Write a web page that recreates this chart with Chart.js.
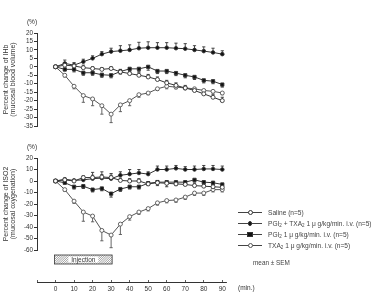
<!DOCTYPE html>
<html>
<head>
<meta charset="utf-8">
<script src="https://cdn.jsdelivr.net/npm/chart.js@4/dist/chart.umd.min.js"></script>
<style>
  body { margin: 0; background: #fff; }
  #wrap { position: relative; width: 374px; height: 297px; overflow: hidden; font-family: 'Liberation Sans', Arial, sans-serif; color: #444; }
  canvas { position: absolute; left: 0; }
  #legend { position: absolute; left: 238px; top: 207px; font-size: 6.6px; line-height: 11px; white-space: nowrap; }
  .row { position: relative; height: 11px; padding-left: 30px; }
  .row .ln { position: absolute; left: 0; top: 5px; width: 24px; border-top: 1px solid #444; }
  .row .mk { position: absolute; box-sizing: border-box; }
  .row sub { font-size: 4.5px; vertical-align: -1px; }
  #sem { position: absolute; left: 253px; top: 259px; font-size: 6.4px; }
</style>
</head>
<body>
<div id="wrap">
  <canvas id="top" width="374" height="135" style="top:0"></canvas>
  <canvas id="bottom" width="374" height="130" style="top:138px"></canvas>
  <canvas id="axis" width="374" height="29" style="top:268px"></canvas>
  <div id="legend"></div>
  <div id="sem">mean ± SEM</div>
</div>
<script>
// time after start (min.)
const minutes = [0, 5, 10, 15, 20, 25, 30, 35, 40, 45, 50, 55, 60, 65, 70, 75, 80, 85, 90];
const xTicks = [-10, 0, 10, 20, 30, 40, 50, 60, 70, 80, 90];
const injection = [0, 30];

const seriesNames = [
  'Saline (n=5)',
  'PGI<sub>2</sub> + TXA<sub>2</sub> 1 μ g/kg/min. i.v. (n=5)',
  'PGI<sub>2</sub> 1 μ g/kg/min. i.v. (n=5)',
  'TXA<sub>2</sub> 1 μ g/kg/min. i.v. (n=5)',
];

// IHb (mucosal blood volume), % change
const salineIHb = [0, 1, 0.5, -0.5, -1, -1.5, -1, -3, -4, -5, -6, -7.5, -9.5, -11, -12.5, -14, -16, -18, -20];
const salineIHbSem = [0, 1.5, 1, 1.5, 1, 1, 1, 1.5, 1.5, 1.5, 1.5, 1.5, 1.5, 1.5, 1.5, 1.5, 1.5, 1.5, 2];
const pgTxIHb = [0, 2, 1, 3, 5, 7.5, 9, 9.5, 10, 11, 11.3, 11.3, 11.3, 11, 10.7, 10, 9.3, 8.5, 7.5];
const pgTxIHbSem = [0, 2, 1.5, 1.5, 1.5, 1.5, 2, 3, 3, 3.5, 3.5, 3, 3, 3, 3, 2.5, 2.5, 2.5, 2];
const pgIHb = [0, -1.5, -1.5, -3.5, -3.5, -4.7, -5, -2.8, -1.2, -1.2, 0, -2.5, -2.5, -3.7, -5, -6, -8, -8.5, -10.5];
const pgIHbSem = [0, 1, 1.5, 1.5, 1.5, 1.5, 1.5, 1.5, 1.5, 1.5, 2, 1.5, 1.5, 1.5, 1.5, 1.5, 1.5, 1.5, 1.5];
const txIHb = [0, -5, -11.5, -17, -19, -23, -28, -22.5, -20, -16.5, -15.5, -13, -11.5, -12, -12.5, -13, -14, -14.5, -15.5];
const txIHbSem = [0, 1, 1.5, 4, 4, 5, 5, 4, 3, 1.5, 1, 1, 1.5, 1, 1, 1, 1, 1, 1];

// ISO2 (mucosal oxygenation), % change
const salineISO2 = [0, 1, 0, 3, 3, 3.5, 3, 0.5, 0, 0, -2.5, -1.5, -2, -2.5, -3, -4, -4.5, -5, -5.5];
const salineISO2Sem = [0, 1, 1, 1.5, 4.5, 4.5, 3.5, 2, 2, 2, 2, 2, 2, 2, 2, 2, 2, 2, 2];
const pgTxISO2 = [0, 1.5, 0.5, 1, 2, 2.5, 2, 5, 6, 7, 6, 10, 10, 11, 10, 10, 10.5, 10.5, 10];
const pgTxISO2Sem = [0, 1, 1, 2, 3, 3, 3, 3, 4, 3, 2, 3, 3, 2.5, 2.5, 3, 3, 3, 3];
const pgISO2 = [0, -1.5, -5, -4.5, -7.5, -6.5, -11, -7, -5, -5, -2, -1, -1, -1, -1, 1, -1, -1.5, -3];
const pgISO2Sem = [0, 1, 2, 2, 2, 2, 3, 2, 2, 2, 2, 3, 4, 3, 3, 2, 2, 2, 2];
const txISO2 = [0, -7.5, -17.5, -27, -30.5, -43, -47, -37.5, -31, -27, -24, -19, -17, -16.5, -14, -10.5, -10.5, -7.5, -7.5];
const txISO2Sem = [0, 1.5, 2, 8, 5, 9, 11, 9, 3, 2, 2, 2, 2, 2, 2, 2, 2, 2, 2];

const ink = '#333';
const font = "'Liberation Sans', Arial, sans-serif";

// marker style per series: saline, PGI2+TXA2, PGI2, TXA2
const markers = [
  { pointStyle: 'circle', pointRadius: 2, pointBackgroundColor: '#fff', borderColor: ink, errDir: 1 },
  { pointStyle: 'circle', pointRadius: 1.8, pointBackgroundColor: '#111', borderColor: ink, errDir: 1 },
  { pointStyle: 'rect', pointRadius: 2.3, pointBackgroundColor: '#111', borderColor: ink, errDir: -1 },
  { pointStyle: 'circle', pointRadius: 2, pointBackgroundColor: '#fff', borderColor: '#555', errDir: -1 },
];

function makeDatasets(values, sems) {
  return values.map((vals, i) => ({
    label: seriesNames[i],
    data: minutes.map((t, j) => ({ x: t, y: vals[j] })),
    sem: sems[i],
    errDir: markers[i].errDir,
    borderColor: markers[i].borderColor,
    borderWidth: 1,
    pointStyle: markers[i].pointStyle,
    pointRadius: markers[i].pointRadius,
    pointBackgroundColor: markers[i].pointBackgroundColor,
    pointBorderColor: markers[i].borderColor,
    pointBorderWidth: 0.9,
    tension: 0,
    clip: false,
  }));
}

// one-sided SEM bars with caps
const errorBars = {
  id: 'errorBars',
  beforeDatasetsDraw(chart) {
    const { ctx } = chart;
    const yScale = chart.scales.y;
    chart.data.datasets.forEach((ds, i) => {
      const meta = chart.getDatasetMeta(i);
      ctx.save();
      ctx.strokeStyle = ds.borderColor;
      ctx.lineWidth = 0.9;
      meta.data.forEach((pt, j) => {
        const s = ds.sem[j];
        if (!s) return;
        const yEnd = yScale.getPixelForValue(ds.data[j].y + ds.errDir * s);
        ctx.beginPath();
        ctx.moveTo(pt.x, pt.y);
        ctx.lineTo(pt.x, yEnd);
        ctx.moveTo(pt.x - 1.6, yEnd);
        ctx.lineTo(pt.x + 1.6, yEnd);
        ctx.stroke();
      });
      ctx.restore();
    });
  },
};

// "(%)" unit over the y axis
const unitLabel = {
  id: 'unitLabel',
  afterDraw(chart) {
    const { ctx, chartArea } = chart;
    ctx.save();
    ctx.fillStyle = ink;
    ctx.font = '6.5px ' + font;
    ctx.textAlign = 'center';
    ctx.fillText('(%)', chartArea.left - 5, chartArea.top - 9);
    ctx.restore();
  },
};

// hatched injection period bar under the lower panel
const injectionBar = {
  id: 'injectionBar',
  afterDraw(chart) {
    const { ctx, chartArea } = chart;
    const x = chart.scales.x;
    const x0 = x.getPixelForValue(injection[0]) - 1;
    const x1 = x.getPixelForValue(injection[1]) + 1;
    const y0 = chartArea.bottom + 5;
    const h = 9;
    ctx.save();
    ctx.beginPath();
    ctx.rect(x0, y0, x1 - x0, h);
    ctx.clip();
    ctx.strokeStyle = '#777';
    ctx.lineWidth = 0.7;
    for (let k = x0 - h; k < x1; k += 2.2) {
      ctx.beginPath();
      ctx.moveTo(k, y0 + h);
      ctx.lineTo(k + h, y0);
      ctx.stroke();
    }
    ctx.restore();
    ctx.save();
    ctx.strokeStyle = ink;
    ctx.lineWidth = 0.8;
    ctx.strokeRect(x0, y0, x1 - x0, h);
    const mid = (x0 + x1) / 2;
    ctx.fillStyle = '#fff';
    ctx.fillRect(mid - 15, y0 + 1.5, 30, h - 3);
    ctx.fillStyle = ink;
    ctx.font = '6.5px ' + font;
    ctx.textAlign = 'center';
    ctx.textBaseline = 'middle';
    ctx.fillText('Injection', mid, y0 + h / 2 + 0.5);
    ctx.restore();
  },
};

function panel(id, datasets, yMin, yMax, yStep, title, padTop, padBottom, extra) {
  return new Chart(document.getElementById(id), {
    type: 'line',
    data: { datasets },
    plugins: [errorBars, unitLabel].concat(extra),
    options: {
      responsive: false,
      animation: false,
      devicePixelRatio: 1,
      layout: { padding: { top: padTop, bottom: padBottom, right: 148, left: 0 } },
      plugins: { legend: { display: false }, tooltip: { enabled: false } },
      scales: {
        x: { type: 'linear', min: -10, max: 92, display: false },
        y: {
          min: yMin,
          max: yMax,
          afterFit: (scale) => { scale.width = 37; },
          ticks: { stepSize: yStep, autoSkip: false, color: ink, font: { family: font, size: 6.3 }, padding: 1 },
          grid: { drawOnChartArea: false, drawTicks: true, tickLength: 3, color: ink },
          border: { display: true, color: ink, width: 1 },
          title: { display: true, text: title, color: ink, font: { family: font, size: 7, lineHeight: 1.05 }, padding: { top: 2, bottom: 2 } },
        },
      },
    },
  });
}

panel('top',
  makeDatasets([salineIHb, pgTxIHb, pgIHb, txIHb], [salineIHbSem, pgTxIHbSem, pgIHbSem, txIHbSem]),
  -35, 20, 5, ['Percent change of IHb', '(mucosal blood volume)'], 33, 9, []);

panel('bottom',
  makeDatasets([salineISO2, pgTxISO2, pgISO2, txISO2], [salineISO2Sem, pgTxISO2Sem, pgISO2Sem, txISO2Sem]),
  -60, 20, 10, ['Percent change of ISO2', '(mucosal oxygenation)'], 20, 18, [injectionBar]);

// shared time axis at the bottom
new Chart(document.getElementById('axis'), {
  type: 'line',
  data: { datasets: [] },
  plugins: [{
    id: 'minLabel',
    afterDraw(chart) {
      const { ctx, chartArea } = chart;
      ctx.save();
      ctx.fillStyle = ink;
      ctx.font = '6.5px ' + font;
      ctx.textBaseline = 'top';
      ctx.fillText('(min.)', chartArea.right + 12, chartArea.bottom + 3);
      ctx.restore();
    },
  }],
  options: {
    responsive: false,
    animation: false,
    devicePixelRatio: 1,
    layout: { padding: { top: 12, bottom: 0, right: 148, left: 37 } },
    plugins: { legend: { display: false }, tooltip: { enabled: false } },
    scales: {
      x: {
        type: 'linear',
        min: -10,
        max: 92,
        afterBuildTicks: (scale) => { scale.ticks = xTicks.map((v) => ({ value: v })); },
        afterFit: (scale) => { scale.height = 15; },
        ticks: { color: ink, font: { family: font, size: 6.5 }, padding: 3, maxRotation: 0, autoSkip: false, callback: (v) => (v < 0 ? '' : v) },
        grid: { drawOnChartArea: true, drawTicks: false, color: ink, lineWidth: 0.8 },
        border: { display: true, color: ink, width: 1 },
      },
      y: { display: false, min: 0, max: 1 },
    },
  },
});

// legend
const legend = document.getElementById('legend');
seriesNames.forEach((name, i) => {
  const m = markers[i];
  const row = document.createElement('div');
  row.className = 'row';
  const ln = document.createElement('span');
  ln.className = 'ln';
  const mk = document.createElement('span');
  mk.className = 'mk';
  const r = m.pointRadius;
  mk.style.width = mk.style.height = (2 * r + 1) + 'px';
  mk.style.left = (12 - r - 0.5) + 'px';
  mk.style.top = (5.5 - r - 0.5) + 'px';
  mk.style.background = m.pointBackgroundColor;
  mk.style.border = '1px solid ' + m.borderColor;
  if (m.pointStyle === 'circle') mk.style.borderRadius = '50%';
  const txt = document.createElement('span');
  txt.innerHTML = name;
  row.append(ln, mk, txt);
  legend.appendChild(row);
});
</script>
</body>
</html>
